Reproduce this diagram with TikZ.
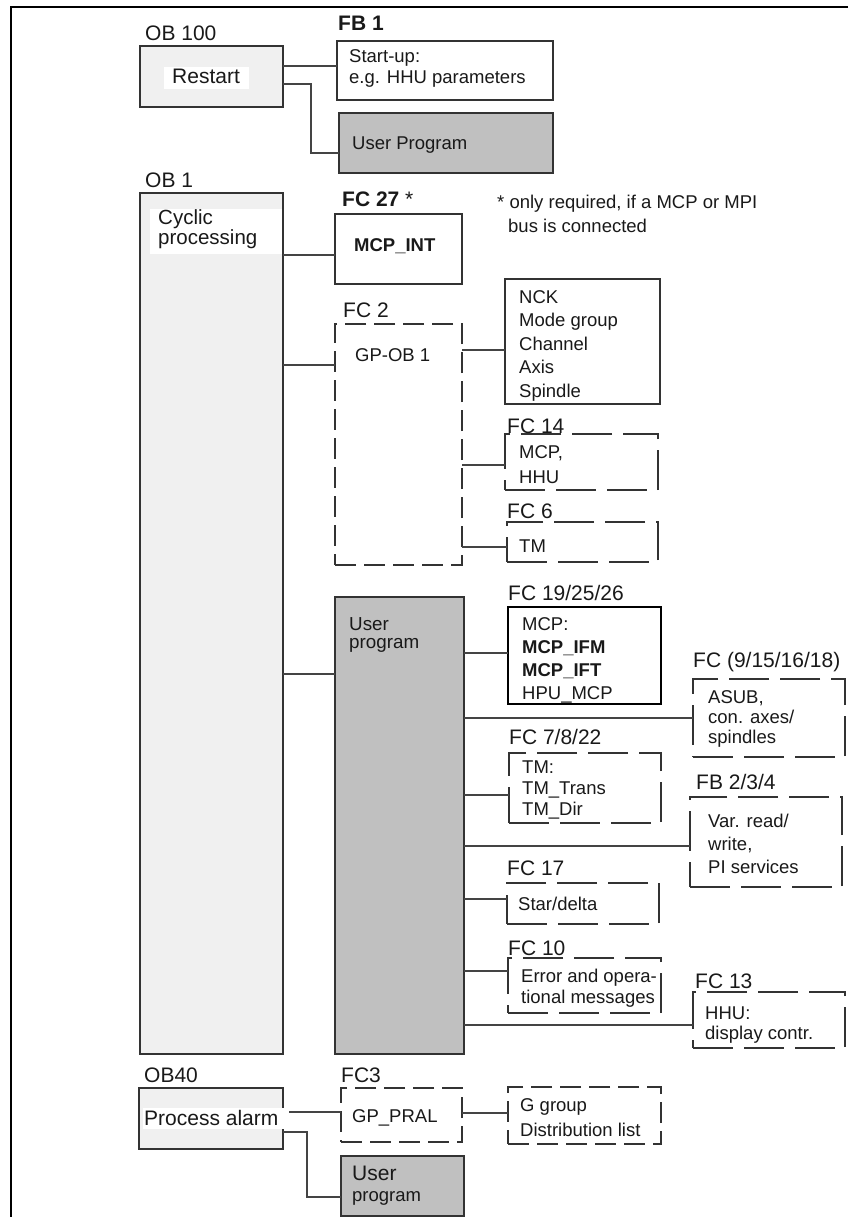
\documentclass[tikz,border=0pt]{standalone}
\usepackage{fontspec}
\setmainfont{Liberation Sans}
\newcommand\setfs[2]{\fontsize{#1}{#2}\selectfont}
\definecolor{lightfill}{HTML}{F0F0F0}
\definecolor{darkfill}{HTML}{C0C0C0}
\definecolor{edge}{HTML}{333333}
\definecolor{wirec}{HTML}{444444}
\newcommand\boxat[6]{\node[#2, minimum width={(#5)-(#3)}, minimum height={(#6)-(#4)}] (#1) at ({((#3)+(#5))/2},{((#4)+(#6))/2}) {};}
\tikzset{
  box/.style={draw=edge, line width=1.3pt, inner sep=0pt, outer sep=0pt, fill=white},
  lightbox/.style={box, fill=lightfill},
  darkbox/.style={box, fill=darkfill},
  dbox/.style={box, dash pattern=on 21pt off 8pt},
  ldbox/.style={box, dash pattern=on 40pt off 11pt},
  boldbox/.style={box, draw=black, line width=2.6pt},
  lbl/.style={anchor=base west, inner sep=0pt, text=black!90, font=\setfs{21}{24}},
  % multi-line texts: the base anchor is the baseline of the LAST line
  txt/.style={anchor=base west, inner sep=0pt, align=left, text=black!90, font=\setfs{18.5}{23}},
  wire/.style={draw=wirec, line width=1.2pt},
  frame/.style={draw=black, line width=2pt},
}
\begin{document}
\begin{tikzpicture}[x=1pt,y=-1pt]
\useasboundingbox (0,0) rectangle (848,1217);
% frame
\draw[frame] (848,7) -- (11,7) -- (11,1217);

% boxes
\boxat{restart}{lightbox}{140}{46}{283}{107}
\boxat{startup}{box}{337}{41}{553}{100}
\boxat{userprog1}{darkbox}{339}{113}{553}{173}
\boxat{ob1}{lightbox}{140}{193}{283}{1054}
\boxat{mcpint}{box}{335}{214}{462}{284}
\boxat{fc2}{dbox}{335}{324}{462}{565}
\boxat{nck}{box}{505}{279}{660}{404}
\boxat{fc14}{ldbox}{505}{434}{658}{490}
\boxat{fc6}{ldbox}{507}{522}{658}{562}
\boxat{userprog2}{darkbox}{335}{597}{464}{1054}
\boxat{fc19}{boldbox}{508}{607}{661}{704}
\boxat{asub}{ldbox}{693}{679}{845}{757}
\boxat{tm}{ldbox}{509}{753}{661}{823}
\boxat{var}{ldbox}{690}{797}{842}{887}
\boxat{star}{ldbox}{507}{883}{659}{924}
\boxat{err}{ldbox}{508}{958}{661}{1013}
\boxat{hhu}{ldbox}{693}{992}{845}{1048}
\boxat{ob40}{lightbox}{139}{1088}{283}{1149}
\boxat{gppral}{dbox}{341}{1088}{462}{1142}
\boxat{ggroup}{dbox}{508}{1087}{661}{1144}
\boxat{userprog3}{darkbox}{341}{1156}{464}{1216}

% white backgrounds behind the OB titles
\fill[white] (164,67) rectangle (249,89);
\fill[white] (150,209) rectangle (282.4,254);
\fill[white] (143,1108) rectangle (289,1129);

% labels
\node[lbl] (l-ob100) at (145,41) {OB 100};
\node[lbl, font=\setfs{21}{24}\bfseries] (l-fb1) at (338,31) {FB 1};
\node[lbl] (l-ob1) at (145,187) {OB 1};
\node[lbl] (l-fc27) at (342,207) {\textbf{FC 27} *};
\node[lbl] (l-fc2) at (343,317) {FC 2};
\node[lbl] (l-fc14) at (507,433) {FC 14};
\node[lbl] (l-fc6) at (507,518) {FC 6};
\node[lbl] (l-fc19) at (508,600) {FC 19/25/26};
\node[lbl] (l-fc9) at (693,667) {FC (9/15/16/18)};
\node[lbl] (l-fc7) at (509,744) {FC 7/8/22};
\node[lbl] (l-fb2) at (696,789) {FB 2/3/4};
\node[lbl] (l-fc17) at (507,875) {FC 17};
\node[lbl] (l-fc10) at (508,955) {FC 10};
\node[lbl] (l-fc13) at (695,988) {FC 13};
\node[lbl] (l-ob40) at (144,1082) {OB40};
\node[lbl] (l-fc3) at (341,1082) {FC3};

\node[txt, font=\setfs{18.5}{24}] (note) at (497,232) {* only required, if a MCP or MPI\\\hspace*{11pt}bus is connected};

% box texts (y = baseline of last line)
\node[txt, font=\setfs{21}{24}] (t-restart) at (172,84) {Restart};
\node[txt, font=\setfs{18.5}{21}] (t-startup) at (349,84) {Start-up:\\e.g. HHU parameters};
\node[txt] (t-up1) at (352,150) {User Program};
\node[txt, font=\setfs{20.5}{20}] (t-cyclic) at (158,244) {Cyclic\\processing};
\node[txt, font=\setfs{18.5}{23}\bfseries] (t-mcpint) at (354,251) {MCP\_INT};
\node[txt] (t-gpob1) at (355,361) {GP-OB 1};
\node[txt, font=\setfs{18.5}{23.5}] (t-nck) at (519,397) {NCK\\Mode group\\Channel\\Axis\\Spindle};
\node[txt, font=\setfs{18.5}{25}] (t-fc14) at (519,483) {MCP,\\HHU};
\node[txt] (t-fc6) at (519,552) {TM};
\node[txt, font=\setfs{18.8}{18}] (t-up2) at (349,648) {User\\program};
\node[txt, font=\setfs{18.5}{23}] (t-fc19) at (522,699) {MCP:\\\textbf{MCP\_IFM}\\\textbf{MCP\_IFT}\\HPU\_MCP};
\node[txt, font=\setfs{18.5}{20}] (t-asub) at (708,743) {ASUB,\\con. axes/\\spindles};
\node[txt, font=\setfs{18.5}{21}] (t-tm) at (522,815) {TM:\\TM\_Trans\\TM\_Dir};
\node[txt, font=\setfs{18.5}{23}] (t-var) at (708,873) {Var. read/\\write,\\PI services};
\node[txt] (t-star) at (518,910) {Star/delta};
\node[txt, font=\setfs{18.5}{21}] (t-err) at (521,1003) {Error and opera-\\tional messages};
\node[txt, font=\setfs{18.5}{20}] (t-hhu) at (705,1039) {HHU:\\display contr.};
\node[txt, font=\setfs{21}{24}] (t-pa) at (144,1125) {Process alarm};
\node[txt] (t-gppral) at (352,1122) {GP\_PRAL};
\node[txt, font=\setfs{18.5}{25}] (t-gg) at (520,1136) {G group\\Distribution list};
\node[txt, font=\setfs{21}{24}] (t-up3a) at (352,1180) {User};
\node[txt] (t-up3b) at (352,1201) {program};

% connectors
\draw[wire] (restart.east |- 0,66) -- (startup.west |- 0,66);
\draw[wire] (restart.east |- 0,84) -- (311,84) -- (311,153) -- (userprog1.west |- 0,153);
\draw[wire] (ob1.east |- 0,255) -- (mcpint.west |- 0,255);
\draw[wire] (ob1.east |- 0,365) -- (fc2.west |- 0,365);
\draw[wire] (fc2.east |- 0,350) -- (nck.west |- 0,350);
\draw[wire] (fc2.east |- 0,465) -- (fc14.west |- 0,465);
\draw[wire] (fc2.east |- 0,547) -- (fc6.west |- 0,547);
\draw[wire] (ob1.east |- 0,674) -- (userprog2.west |- 0,674);
\draw[wire] (userprog2.east |- 0,653) -- (fc19.west |- 0,653);
\draw[wire] (userprog2.east |- 0,718) -- (asub.west |- 0,718);
\draw[wire] (userprog2.east |- 0,795) -- (tm.west |- 0,795);
\draw[wire] (userprog2.east |- 0,846) -- (var.west |- 0,846);
\draw[wire] (userprog2.east |- 0,899) -- (star.west |- 0,899);
\draw[wire] (userprog2.east |- 0,971) -- (err.west |- 0,971);
\draw[wire] (userprog2.east |- 0,1025) -- (hhu.west |- 0,1025);
\draw[wire] (289,1112) -- (gppral.west |- 0,1112);
\draw[wire] (gppral.east |- 0,1113) -- (ggroup.west |- 0,1113);
\draw[wire] (ob40.east |- 0,1132) -- (307,1132) -- (307,1197) -- (userprog3.west |- 0,1197);
\end{tikzpicture}
\end{document}
